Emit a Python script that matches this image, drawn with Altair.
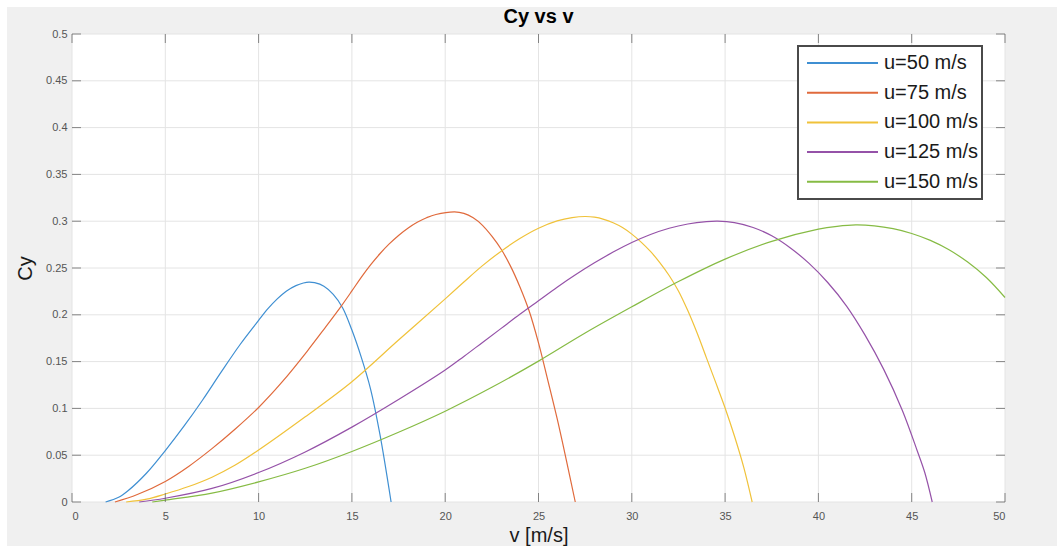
import altair as alt
import pandas as pd

# Series labels and line colours
speeds = ["u=50 m/s", "u=75 m/s", "u=100 m/s", "u=125 m/s", "u=150 m/s"]
colors = ["#3f8fd2", "#e06a3c", "#f0c23a", "#9552a8", "#86bb44"]

# Cy against v for each flow speed u
v_50 = [1.8, 2.5, 3.0, 4.0, 5.0, 6.0, 7.0, 8.0, 9.0, 10.0, 10.5, 11.0, 11.5, 12.0, 12.4,
        12.7, 13.0, 13.5, 14.0, 14.5, 15.0, 15.5, 16.0, 16.5, 17.1]
cy_50 = [0.0, 0.005, 0.012, 0.031, 0.055, 0.081, 0.109, 0.139, 0.168, 0.194, 0.2065,
         0.217, 0.2255, 0.2312, 0.234, 0.235, 0.2343, 0.2305, 0.2218, 0.2076, 0.1837,
         0.1548, 0.1207, 0.0724, 0.0]

v_75 = [2.3, 3.5, 5.0, 6.25, 7.5, 8.75, 10.0, 11.25, 12.6, 13.5, 14.4, 15.0, 15.5, 16.0,
        16.5, 17.0, 17.5, 18.0, 18.5, 19.0, 19.5, 20.5, 21.0, 21.5, 22.0, 22.5, 23.0,
        23.5, 24.0, 24.5, 25.0, 25.5, 26.0, 26.5, 26.97]
cy_75 = [0.0, 0.008, 0.022, 0.038, 0.057, 0.078, 0.101, 0.128, 0.161, 0.1845, 0.2085,
         0.2255, 0.240, 0.2533, 0.2652, 0.2757, 0.2848, 0.2925, 0.2988, 0.3037, 0.3072,
         0.310, 0.3084, 0.3036, 0.2956, 0.284, 0.270, 0.252, 0.230, 0.204, 0.170, 0.130,
         0.089, 0.044, 0.0]

v_100 = [2.9, 4.0, 5.0, 6.25, 7.5, 8.75, 10.0, 12.5, 15.0, 17.5, 20.0, 21.0, 22.0, 23.0,
         24.0, 25.0, 26.0, 26.8, 27.5, 28.0, 28.5, 29.0, 29.5, 30.0, 30.5, 31.0, 31.5,
         32.0, 32.5, 33.0, 33.5, 34.0, 34.5, 35.0, 35.5, 36.0, 36.45]
cy_100 = [0.0, 0.003, 0.0085, 0.0165, 0.0265, 0.0395, 0.0555, 0.091, 0.1285, 0.173,
          0.217, 0.235, 0.2525, 0.268, 0.2815, 0.2925, 0.3003, 0.3038, 0.305, 0.3043,
          0.302, 0.2983, 0.2932, 0.2862, 0.2777, 0.2677, 0.2558, 0.242, 0.2255, 0.2045,
          0.1805, 0.154, 0.1275, 0.1005, 0.0705, 0.037, 0.0]

v_125 = [3.6, 5.0, 7.5, 10.0, 12.5, 15.0, 17.5, 20.0, 21.0, 22.0, 23.0, 24.0, 25.0, 26.0,
         27.0, 28.0, 29.0, 30.0, 31.0, 32.0, 33.0, 34.0, 34.6, 35.5, 36.5, 37.5, 38.5,
         39.5, 40.5, 41.5, 42.5, 43.5, 44.5, 45.3, 45.7, 46.1]
cy_125 = [0.0, 0.004, 0.0145, 0.0315, 0.0535, 0.080, 0.1095, 0.141, 0.1555, 0.1705,
          0.1855, 0.2005, 0.215, 0.2295, 0.243, 0.2555, 0.267, 0.2772, 0.2858, 0.2925,
          0.297, 0.2995, 0.300, 0.2985, 0.2933, 0.2844, 0.2714, 0.2549, 0.2345, 0.2096,
          0.1783, 0.1417, 0.0978, 0.0545, 0.0315, 0.0]

v_150 = [4.3, 5.0, 7.5, 10.0, 12.5, 15.0, 17.5, 20.0, 22.5, 25.0, 27.5, 30.0, 32.5, 35.0,
         37.5, 40.0, 41.0, 42.0, 43.0, 44.0, 45.0, 46.0, 47.0, 48.0, 49.0, 50.0]
cy_150 = [0.0, 0.002, 0.0095, 0.0215, 0.036, 0.054, 0.0745, 0.097, 0.1225, 0.1505,
          0.1805, 0.2085, 0.2355, 0.2595, 0.2785, 0.2915, 0.2945, 0.296, 0.295, 0.292,
          0.2869, 0.2795, 0.2695, 0.2563, 0.2398, 0.2185]

# Axis tick positions
x_ticks = [0, 5, 10, 15, 20, 25, 30, 35, 40, 45, 50]
y_ticks = [0, 0.05, 0.1, 0.15, 0.2, 0.25, 0.3, 0.35, 0.4, 0.45, 0.5]

W, H = 933, 468
FONT = "Liberation Sans"
AXIS_GRAY = "#5a5a5a"

series = [(speeds[0], v_50, cy_50), (speeds[1], v_75, cy_75), (speeds[2], v_100, cy_100),
          (speeds[3], v_125, cy_125), (speeds[4], v_150, cy_150)]
curves = pd.concat(
    [pd.DataFrame({"v": vs, "cy": cs, "series": name, "order": range(len(vs))})
     for name, vs, cs in series],
    ignore_index=True,
)
xt = pd.DataFrame({"v": x_ticks})
yt = pd.DataFrame({"cy": y_ticks})
one = pd.DataFrame({"k": [0]})

x_enc = alt.X(
    "v:Q",
    scale=alt.Scale(domain=[0, 50], nice=False, zero=False),
    axis=alt.Axis(values=x_ticks, format="~g", title="v [m/s]", titleFont=FONT,
                  titleFontSize=20, titleFontWeight="normal", titleColor="#1a1a1a",
                  titlePadding=4, labelFont=FONT, labelFontSize=11, labelColor="#555555",
                  labelPadding=8, ticks=False, domain=False, grid=False, zindex=1),
)
y_enc = alt.Y(
    "cy:Q",
    scale=alt.Scale(domain=[0, 0.5], nice=False, zero=False),
    axis=alt.Axis(values=y_ticks, format="~g", title="Cy", titleFont=FONT,
                  titleFontSize=20, titleFontWeight="normal", titleColor="#1a1a1a",
                  titlePadding=10, labelFont=FONT, labelFontSize=11, labelColor="#555555",
                  labelPadding=5, ticks=False, domain=False, grid=False, zindex=1),
)

# Figure background and white axes area
figure_bg = alt.Chart(one).mark_rect(color="#f0f0f0").encode(
    x=alt.value(-65), x2=alt.value(985), y=alt.value(-27), y2=alt.value(512)
)
axes_bg = alt.Chart(one).mark_rect(color="white").encode(
    x=alt.value(0), x2=alt.value(W), y=alt.value(0), y2=alt.value(H)
)

# Grid lines
grid_x = alt.Chart(xt).mark_rule(color="#e4e4e4", strokeWidth=1).encode(x=x_enc)
grid_y = alt.Chart(yt).mark_rule(color="#e4e4e4", strokeWidth=1).encode(y=y_enc)

# Curves
lines = alt.Chart(curves).mark_line(strokeWidth=1.2, interpolate="catmull-rom").encode(
    x=x_enc,
    y=y_enc,
    order="order:Q",
    color=alt.Color(
        "series:N",
        scale=alt.Scale(domain=speeds, range=colors),
        legend=alt.Legend(
            title=None, orient="none", legendX=726, legendY=12,
            symbolType="stroke", symbolSize=5041, symbolStrokeWidth=2,
            clipHeight=26, rowPadding=3.7, padding=4, symbolOffset=4,
            labelFont=FONT, labelFontSize=20, labelColor="#1a1a1a", labelOffset=5,
            fillColor="white", strokeColor="#4a4a4a", cornerRadius=0,
        ),
    ),
)

# Inward tick marks on all four sides
tick_len = 9
ticks_bottom = alt.Chart(xt).mark_tick(orient="vertical", size=tick_len, thickness=1,
                                       color=AXIS_GRAY).encode(x=x_enc, y=alt.value(H - tick_len / 2))
ticks_top = alt.Chart(xt).mark_tick(orient="vertical", size=tick_len, thickness=1,
                                    color=AXIS_GRAY).encode(x=x_enc, y=alt.value(tick_len / 2))
ticks_left = alt.Chart(yt).mark_tick(orient="horizontal", size=tick_len, thickness=1,
                                     color=AXIS_GRAY).encode(y=y_enc, x=alt.value(tick_len / 2))
ticks_right = alt.Chart(yt).mark_tick(orient="horizontal", size=tick_len, thickness=1,
                                      color=AXIS_GRAY).encode(y=y_enc, x=alt.value(W - tick_len / 2))

chart = (
    alt.layer(figure_bg, axes_bg, grid_x, grid_y, lines,
              ticks_bottom, ticks_top, ticks_left, ticks_right)
    .properties(
        width=W,
        height=H,
        title=alt.TitleParams("Cy vs v", font=FONT, fontSize=20, fontWeight="bold",
                              color="#000000", anchor="middle", frame="group", offset=-20),
        autosize=alt.AutoSizeParams(type="none"),
        padding={"left": 72, "top": 34, "right": 52, "bottom": 46},
        background="white",
    )
    .configure_view(stroke=AXIS_GRAY, strokeWidth=1)
    .configure_legend(strokeWidth=2)
)

chart.save("out.html", embed_options={"renderer": "svg", "actions": False})
